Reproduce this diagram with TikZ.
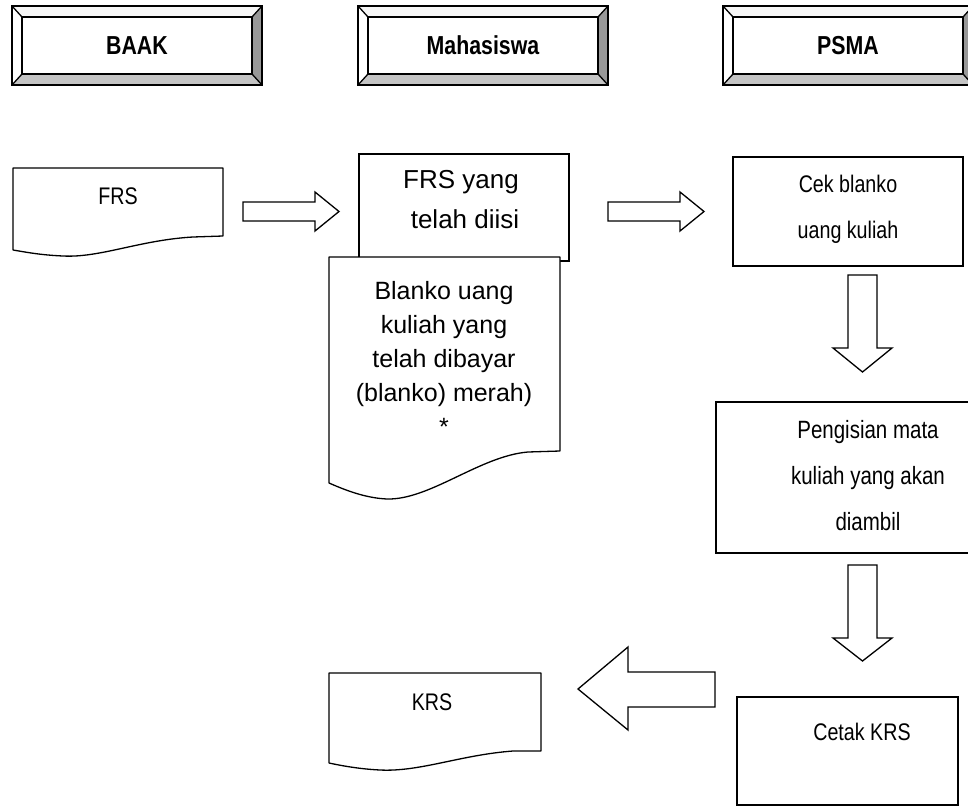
\documentclass[tikz,border=0pt]{standalone}
\usepackage{fontspec}
\setmainfont{Liberation Sans}
\newfontfamily\narrowsf{Liberation Sans}[FakeStretch=0.82]
\definecolor{bevellight}{HTML}{F6F6F6}
\definecolor{bevelside}{HTML}{989898}
\definecolor{bevelbase}{HTML}{C4C4C4}
\tikzset{
  outline/.style={draw=black, line width=1.3pt},
  procbox/.style={outline, fill=white},
  docbox/.style={outline, fill=white, line join=round},
  blockarrow/.style={outline, fill=white, line join=miter},
  headtext/.style={font=\narrowsf\bfseries\fontsize{26}{30}\selectfont},
  bodytext/.style={font=\fontsize{25}{34}\selectfont, align=center},
  narrowtext/.style={font=\narrowsf\fontsize{24}{46}\selectfont, align=center}
}
\begin{document}
\begin{tikzpicture}[x=1pt, y=-1pt]
\useasboundingbox (0,0) rectangle (968,808);

% header buttons
\foreach \x/\name/\label in {12/baak/BAAK, 358/mhs/Mahasiswa, 723/psma/PSMA} {
  \fill[bevellight] (\x,6) -- (\x+250,6) -- (\x+240,17) -- (\x+10,17) -- cycle;
  \fill[white] (\x,6) -- (\x+10,17) -- (\x+10,74) -- (\x,85) -- cycle;
  \fill[bevelside] (\x+250,6) -- (\x+240,17) -- (\x+240,74) -- (\x+250,85) -- cycle;
  \fill[bevelbase] (\x,85) -- (\x+10,74) -- (\x+240,74) -- (\x+250,85) -- cycle;
  \draw[outline] (\x,6) rectangle (\x+250,85);
  \draw[outline] (\x+10,17) rectangle (\x+240,74);
  \draw[outline] (\x,6) -- (\x+10,17) (\x+250,6) -- (\x+240,17)
    (\x,85) -- (\x+10,74) (\x+250,85) -- (\x+240,74);
  \node[headtext] (\name) at (\x+125,45.5) {\label};
}

% BAAK
\draw[docbox] (13,168) -- (223,168) -- (223,236) -- (193,237)
  .. controls (140,240) and (100,258) .. (63,256)
  .. controls (40,255) and (25,252) .. (13,250) -- cycle;
\node[narrowtext] (frs) at (118,196) {FRS};

% Mahasiswa
\draw[procbox] (359,154) rectangle (569,261);
\node[bodytext, font=\fontsize{26}{40}\selectfont] (frsisi) at (461,200) {FRS yang\\\hspace*{8pt}telah diisi};
\draw[docbox] (329,257) -- (560,257) -- (560,451) -- (528,452)
  .. controls (480,456) and (430,500) .. (387,499)
  .. controls (365,498) and (345,490) .. (329,483) -- cycle;
\node[bodytext] (blanko) at (444,358) {Blanko uang\\kuliah yang\\telah dibayar\\(blanko) merah)\\*};

% PSMA
\draw[procbox] (733,157) rectangle (963,266);
\node[narrowtext] (cek) at (848,209) {Cek blanko\\uang kuliah};
\draw[procbox] (716,402) rectangle (975,553);
\node[narrowtext, font=\narrowsf\fontsize{25}{46}\selectfont] (isi) at (868,476) {Pengisian mata\\kuliah yang akan\\diambil};
\draw[procbox] (737,697) rectangle (958,805);
\node[narrowtext] (cetak) at (862,732) {Cetak KRS};

% KRS
\draw[docbox] (329,673) -- (541,673) -- (541,751) -- (513,751)
  .. controls (460,755) and (420,772) .. (380,770)
  .. controls (360,769) and (343,766) .. (329,763) -- cycle;
\node[narrowtext] (krs) at (432,702) {KRS};

% block arrows
\draw[blockarrow] (243,202) -- (315,202) -- (315,192) -- (339,211.5)
  -- (315,231) -- (315,221) -- (243,221) -- cycle;
\draw[blockarrow] (608,202) -- (680,202) -- (680,192) -- (704,211.5)
  -- (680,231) -- (680,221) -- (608,221) -- cycle;
\draw[blockarrow] (848,275) -- (877,275) -- (877,348) -- (892,348)
  -- (862.5,372) -- (833,348) -- (848,348) -- cycle;
\draw[blockarrow] (848,565) -- (877,565) -- (877,638) -- (892,638)
  -- (862.5,661) -- (833,638) -- (848,638) -- cycle;
\draw[blockarrow] (715,672) -- (628,672) -- (628,647) -- (578,689)
  -- (628,730) -- (628,707) -- (715,707) -- cycle;

\end{tikzpicture}
\end{document}
